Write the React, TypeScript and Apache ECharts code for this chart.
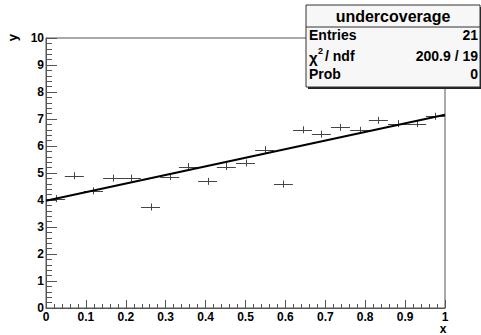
import React, { useEffect, useRef } from "react";
import * as echarts from "echarts";

const xValues = [0.024, 0.071, 0.119, 0.167, 0.214, 0.262, 0.31, 0.357, 0.405, 0.452, 0.5, 0.548, 0.595, 0.643, 0.69, 0.738, 0.786, 0.833, 0.881, 0.929, 0.976];
const yValues = [4.05, 4.9, 4.34, 4.81, 4.81, 3.74, 4.87, 5.24, 4.69, 5.24, 5.37, 5.86, 4.59, 6.6, 6.44, 6.69, 6.58, 6.95, 6.83, 6.83, 7.1];
const xErrors = [0.0238, 0.0238, 0.0238, 0.0238, 0.0238, 0.0238, 0.0238, 0.0238, 0.0238, 0.0238, 0.0238, 0.0238, 0.0238, 0.0238, 0.0238, 0.0238, 0.0238, 0.0238, 0.0238, 0.0238, 0.0238];
const yErrors = [0.13, 0.13, 0.13, 0.13, 0.13, 0.13, 0.13, 0.13, 0.13, 0.13, 0.13, 0.13, 0.13, 0.13, 0.13, 0.13, 0.13, 0.13, 0.13, 0.13, 0.13];
const fitX = [0, 1];
const fitY = [3.97, 7.16];

const statTitle = "undercoverage";
const statLabels = ["Entries", "", "Prob"];
const statValues = ["21", "200.9 / 19", "0"];

const FONT = "'Liberation Sans', Arial, Helvetica, sans-serif";

export default function App() {
  const ref = useRef<HTMLDivElement>(null);
  useEffect(() => {
    if (!ref.current) return;
    const chart = echarts.init(ref.current, undefined, { renderer: "svg" });
    const points = xValues.map((x, i) => [x, yValues[i], xErrors[i], yErrors[i]]);
    const fit = fitX.map((x, i) => [x, fitY[i]]);
    const axisColor = "#555";
    const rowY = [35, 56, 74];
    const graphics: any[] = [
      { type: "text", left: 6, top: 34, rotation: Math.PI / 2, style: { text: "y", font: `bold 13px ${FONT}`, fill: "#000" }, z: 100 },
      { type: "text", x: 443, y: 329, style: { text: "x", font: `bold 12px ${FONT}`, lineHeight: 11, fill: "#000", align: "center", verticalAlign: "middle" }, z: 100 },
      { type: "rect", shape: { x: 308, y: 7, width: 174, height: 82 }, style: { fill: "#222" }, z: 100 },
      { type: "rect", shape: { x: 306, y: 5, width: 174, height: 82 }, style: { fill: "#f7f7f7", stroke: "#333", lineWidth: 1 }, z: 101 },
      { type: "line", shape: { x1: 306, y1: 27, x2: 480, y2: 27 }, style: { stroke: "#333", lineWidth: 1 }, z: 102 },
      { type: "text", x: 393, y: 16, style: { text: statTitle, font: `bold 16px ${FONT}`, fill: "#000", align: "center", verticalAlign: "middle" }, z: 103 },
      { type: "text", x: 309, y: rowY[1] + 1, style: { text: "χ", font: `bold 15px ${FONT}`, fill: "#000", align: "left", verticalAlign: "middle" }, z: 103 },
      { type: "text", x: 318, y: rowY[1] - 5, style: { text: "2", font: `bold 9px ${FONT}`, fill: "#000", align: "left", verticalAlign: "middle" }, z: 103 },
      { type: "text", x: 325, y: rowY[1], style: { text: "/ ndf", font: `bold 14px ${FONT}`, fill: "#000", align: "left", verticalAlign: "middle" }, z: 103 },
    ];
    statLabels.forEach((l, i) => {
      if (l) graphics.push({ type: "text", x: 309, y: rowY[i], style: { text: l, font: `bold 14px ${FONT}`, fill: "#000", align: "left", verticalAlign: "middle" }, z: 103 });
      graphics.push({ type: "text", x: 478, y: rowY[i], style: { text: statValues[i], font: `bold 14px ${FONT}`, fill: "#000", align: "right", verticalAlign: "middle" }, z: 103 });
    });

    chart.setOption({
      animation: false,
      backgroundColor: "#fff",
      grid: { left: 46, right: 36, top: 38, bottom: 27, show: true, borderColor: axisColor, borderWidth: 1, backgroundColor: "transparent" },
      xAxis: {
        type: "value", min: 0, max: 1, interval: 0.1,
        axisLine: { show: true, lineStyle: { color: axisColor } },
        axisTick: { show: true, inside: true, length: 8, lineStyle: { color: axisColor } },
        minorTick: { show: true, splitNumber: 5, length: 4, lineStyle: { color: axisColor } },
        splitLine: { show: false },
        axisLabel: { color: "#000", fontFamily: FONT, fontWeight: "bold", fontSize: 12, lineHeight: 12, margin: 3, formatter: (v: number) => String(Math.round(v * 10) / 10) },
      },
      yAxis: {
        type: "value", min: 0, max: 10, interval: 1,
        axisLine: { show: true, lineStyle: { color: axisColor } },
        axisTick: { show: true, inside: true, length: 11, lineStyle: { color: axisColor } },
        minorTick: { show: true, splitNumber: 5, length: 6, lineStyle: { color: axisColor } },
        splitLine: { show: false },
        axisLabel: { color: "#000", fontFamily: FONT, fontWeight: "bold", fontSize: 12, margin: 2 },
      },
      series: [
        {
          type: "custom",
          data: points,
          encode: { x: 0, y: 1 },
          renderItem: (params: any, api: any) => {
            const x = api.value(0), y = api.value(1), ex = api.value(2), ey = api.value(3);
            const l = api.coord([x - ex, y]);
            const r = api.coord([x + ex, y]);
            const t = api.coord([x, y + ey]);
            const b = api.coord([x, y - ey]);
            const style = { stroke: "#444", lineWidth: 1 };
            return {
              type: "group",
              children: [
                { type: "line", shape: { x1: l[0], y1: Math.round(l[1]) + 0.5, x2: r[0], y2: Math.round(r[1]) + 0.5 }, style },
                { type: "line", shape: { x1: Math.round(t[0]) + 0.5, y1: t[1], x2: Math.round(b[0]) + 0.5, y2: b[1] }, style },
              ],
            };
          },
          z: 3,
        },
        {
          type: "line",
          data: fit,
          symbol: "none",
          lineStyle: { color: "#000", width: 2 },
          z: 4,
        },
      ],
      graphic: graphics,
    });
    return () => chart.dispose();
  }, []);
  return <div ref={ref} style={{ position: "absolute", left: 0, top: 0, width: 481, height: 335 }} />;
}
